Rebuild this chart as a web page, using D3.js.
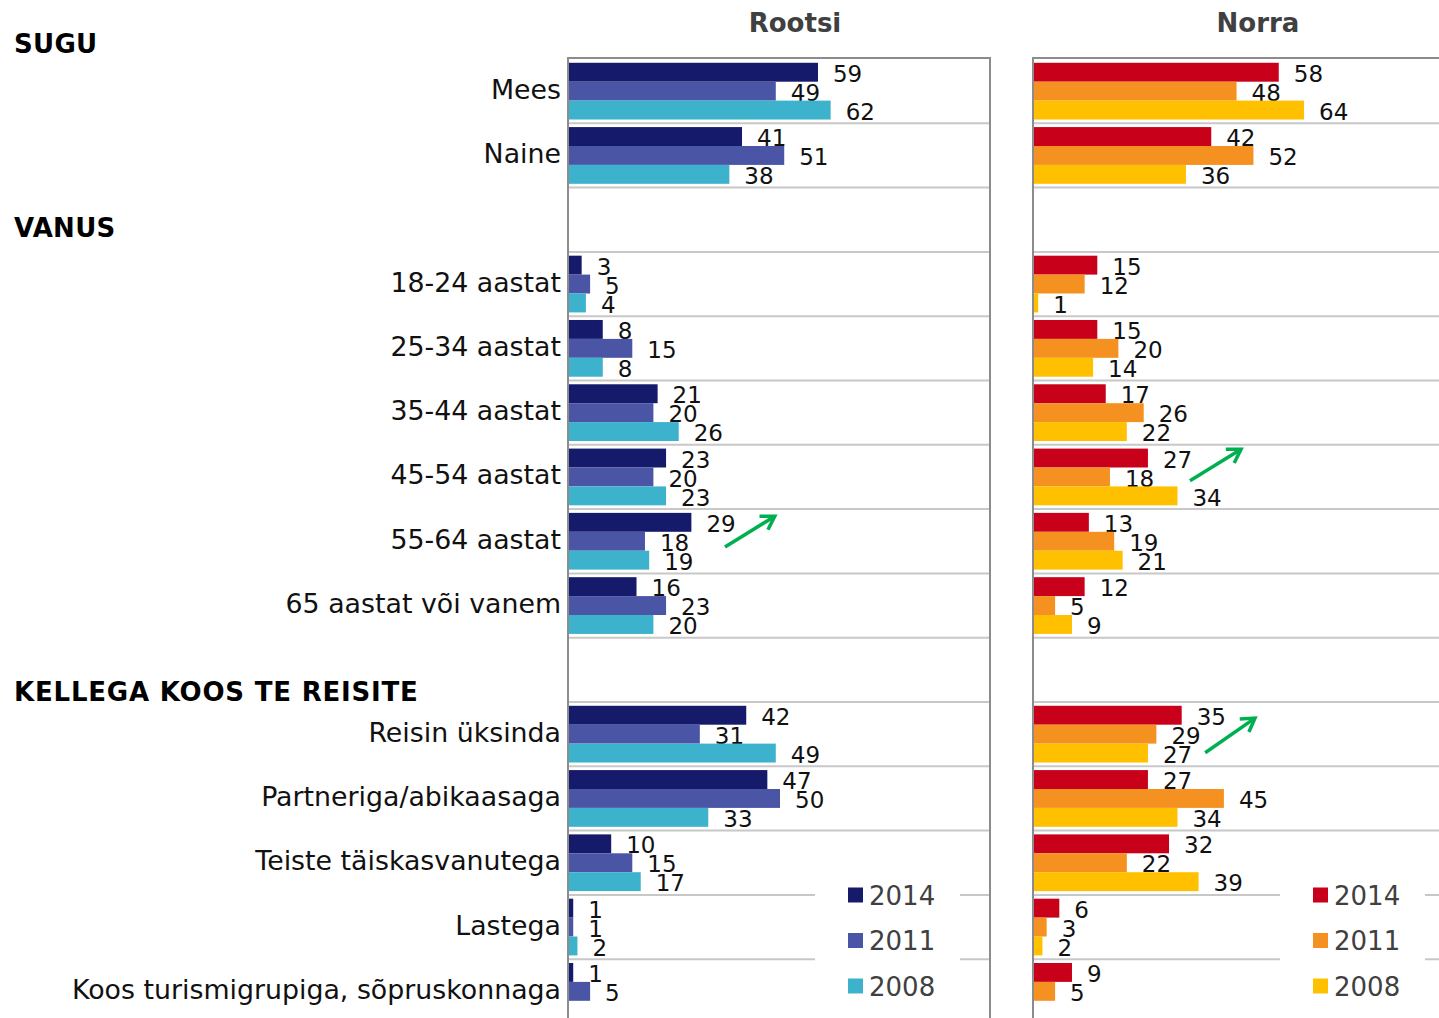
<!DOCTYPE html>
<html>
<head>
<meta charset="utf-8">
<script src="https://cdn.jsdelivr.net/npm/d3@7"></script>
<style>
  body { margin: 0; background: #fff; }
  text { font-family: "DejaVu Sans", Verdana, sans-serif; }
</style>
</head>
<body>
<div id="chart"></div>
<script>
// rows of the chart, null = empty spacer row
var categories = ["Mees", "Naine", null,
  "18-24 aastat", "25-34 aastat", "35-44 aastat", "45-54 aastat", "55-64 aastat", "65 aastat või vanem", null,
  "Reisin üksinda", "Partneriga/abikaasaga", "Teiste täiskasvanutega", "Lastega", "Koos turismigrupiga, sõpruskonnaga"];
var years = ["2014", "2011", "2008"];
var panels = ["Rootsi", "Norra"];
var sections = ["SUGU", "VANUS", "KELLEGA KOOS TE REISITE"];

var rootsi2014 = [59, 41, null, 3, 8, 21, 23, 29, 16, null, 42, 47, 10, 1, 1];
var rootsi2011 = [49, 51, null, 5, 15, 20, 20, 18, 23, null, 31, 50, 15, 1, 5];
var rootsi2008 = [62, 38, null, 4, 8, 26, 23, 19, 20, null, 49, 33, 17, 2, null];
var norra2014 = [58, 42, null, 15, 15, 17, 27, 13, 12, null, 35, 27, 32, 6, 9];
var norra2011 = [48, 52, null, 12, 20, 26, 18, 19, 5, null, 29, 45, 22, 3, 5];
var norra2008 = [64, 36, null, 1, 14, 22, 34, 21, 9, null, 27, 34, 39, 2, null];

var width = 1439, height = 1018;

var svg = d3.select("#chart").append("svg")
    .attr("width", width)
    .attr("height", height);

var rows = d3.range(categories.length);
var y = d3.scaleBand().domain(rows).range([59, 59 + 64.3 * categories.length]).paddingInner(0);
var yy = d3.scaleBand().domain(years).range([0, y.bandwidth()]).paddingOuter(0.2);
var x = d3.scaleLinear().domain([0, 100]).range([0, 422]);

var panelDefs = [
  {name: panels[0], left: 568, right: 990, series: [rootsi2014, rootsi2011, rootsi2008],
   colors: ["#151b6a", "#4a55a5", "#3db2cc"], legendX: 848},
  {name: panels[1], left: 1033, right: 1439, series: [norra2014, norra2011, norra2008],
   colors: ["#c8001a", "#f59120", "#ffc000"], legendX: 1313}
];

// section headers: row + offset from row top
var headerPos = [{row: 0, dy: -6}, {row: 2, dy: 49}, {row: 9, dy: 63}];
svg.selectAll("text.section")
    .data(sections)
    .enter().append("text")
    .attr("class", "section")
    .attr("x", 14)
    .attr("y", function(d, i) { return y(headerPos[i].row) + headerPos[i].dy; })
    .attr("font-size", 26)
    .attr("font-weight", "bold")
    .attr("letter-spacing", function(d) { return d.length > 10 ? 0.8 : 0.3; })
    .attr("fill", "#000")
    .text(function(d) { return d; });

// category labels
svg.selectAll("text.cat")
    .data(rows.filter(function(i) { return categories[i]; }))
    .enter().append("text")
    .attr("class", "cat")
    .attr("x", 561)
    .attr("y", function(i) { return y(i) + y.bandwidth() / 2; })
    .attr("dy", "0.28em")
    .attr("text-anchor", "end")
    .attr("font-size", 26.8)
    .attr("fill", "#111")
    .text(function(i) { return categories[i]; });

panelDefs.forEach(function(p) {
  var g = svg.append("g").attr("transform", "translate(" + p.left + ",0)");
  var w = p.right - p.left;

  // title
  svg.append("text")
      .attr("x", p.left + (p.name == "Rootsi" ? 227 : 225))
      .attr("y", 32)
      .attr("text-anchor", "middle")
      .attr("font-size", 26)
      .attr("font-weight", "bold")
      .attr("fill", "#404040")
      .text(p.name);

  // row grid lines
  g.selectAll("line.grid")
      .data(rows.slice(1))
      .enter().append("line")
      .attr("class", "grid")
      .attr("x1", 0).attr("x2", w)
      .attr("y1", function(i) { return y(i); })
      .attr("y2", function(i) { return y(i); })
      .attr("stroke", "#c8c8c8")
      .attr("stroke-width", 2);

  // bars
  years.forEach(function(yr, k) {
    var vals = p.series[k];
    var data = rows.filter(function(i) { return vals[i] != null; });
    g.selectAll("rect.b" + yr)
        .data(data)
        .enter().append("rect")
        .attr("class", "b" + yr)
        .attr("x", 1)
        .attr("y", function(i) { return y(i) + yy(yr); })
        .attr("width", function(i) { return x(vals[i]); })
        .attr("height", yy.bandwidth())
        .attr("fill", p.colors[k]);
    g.selectAll("text.l" + yr)
        .data(data)
        .enter().append("text")
        .attr("class", "l" + yr)
        .attr("x", function(i) { return x(vals[i]) + 16; })
        .attr("y", function(i) { return y(i) + yy(yr) + yy.bandwidth() / 2; })
        .attr("dy", "0.42em")
        .attr("font-size", 23)
        .attr("fill", "#111")
        .text(function(i) { return vals[i]; });
  });

  // frame
  g.append("line").attr("x1", 0).attr("x2", w).attr("y1", 58).attr("y2", 58)
      .attr("stroke", "#8c8c8c").attr("stroke-width", 2);
  g.append("line").attr("x1", 0).attr("x2", 0).attr("y1", 57).attr("y2", height)
      .attr("stroke", "#8c8c8c").attr("stroke-width", 2);
  if (p.right < width) {
    g.append("line").attr("x1", w).attr("x2", w).attr("y1", 57).attr("y2", height)
        .attr("stroke", "#8c8c8c").attr("stroke-width", 2);
  }

  // legend
  var lg = svg.append("g").attr("transform", "translate(" + p.legendX + ",0)");
  lg.append("rect").attr("x", -33).attr("y", 875).attr("width", 145).attr("height", 130).attr("fill", "#fff");
  years.forEach(function(yr, k) {
    var cy = 895 + k * 45.5;
    lg.append("rect").attr("x", 0).attr("y", cy - 7.5).attr("width", 15).attr("height", 15)
        .attr("fill", p.colors[k]);
    lg.append("text").attr("x", 21).attr("y", cy).attr("dy", "0.37em")
        .attr("font-size", 26).attr("fill", "#404040").text(yr);
  });
});

// green trend arrows: [panel, row, x value start, row fraction start, x value end, row fraction end]
var arrows = [
  [0, 7, 37.2, 0.59, 49.0, 0.11],
  [1, 6, 37.2, 0.56, 49.3, 0.07],
  [1, 10, 40.8, 0.79, 52.6, 0.25]
];
svg.append("defs").append("marker")
    .attr("id", "head")
    .attr("markerUnits", "userSpaceOnUse")
    .attr("viewBox", "-16 -10 20 20")
    .attr("markerWidth", 20).attr("markerHeight", 20)
    .attr("orient", "auto")
    .append("path")
    .attr("d", "M-13,-8 L0,0 L-13,8")
    .attr("fill", "none")
    .attr("stroke", "#00b050")
    .attr("stroke-width", 3.5);
svg.selectAll("line.arrow")
    .data(arrows)
    .enter().append("line")
    .attr("class", "arrow")
    .attr("x1", function(d) { return panelDefs[d[0]].left + x(d[2]); })
    .attr("y1", function(d) { return y(d[1]) + d[3] * y.bandwidth(); })
    .attr("x2", function(d) { return panelDefs[d[0]].left + x(d[4]); })
    .attr("y2", function(d) { return y(d[1]) + d[5] * y.bandwidth(); })
    .attr("stroke", "#00b050")
    .attr("stroke-width", 3.5)
    .attr("marker-end", "url(#head)");
</script>
</body>
</html>
